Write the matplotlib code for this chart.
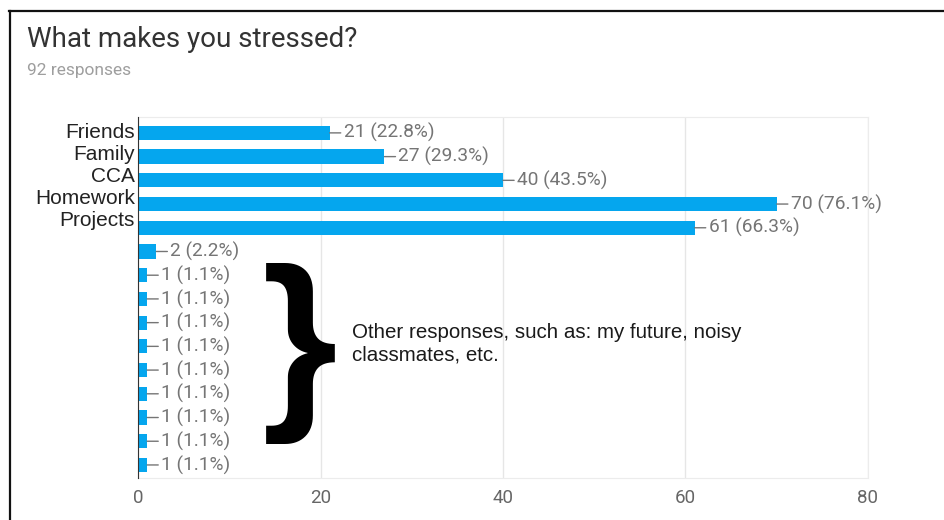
import matplotlib.pyplot as plt
from matplotlib.lines import Line2D

# survey answers, top five named, the rest are free-text "other" answers
named = ['Friends', 'Family', 'CCA', 'Homework', 'Projects']
named_counts = [21, 27, 40, 70, 61]
other_counts = [2, 1, 1, 1, 1, 1, 1, 1, 1, 1]
total = 92
xticks = [0, 20, 40, 60, 80]

counts = named_counts + other_counts
rows = list(range(len(counts)))

BLUE = '#05a6ee'
GREY = '#757575'


def main():
    fig = plt.figure(figsize=(9.45, 5.2), dpi=100)
    ax = fig.add_axes([138 / 945, 1 - 478 / 520, 730 / 945, 361 / 520])

    ax.barh(rows, counts, height=0.6, color=BLUE, zorder=3)
    for y, v in zip(rows, counts):
        ax.annotate(f'{v} ({v / total * 100:.1f}%)', xy=(v, y), xytext=(10, 0),
                    textcoords='offset points', va='center', ha='left',
                    color=GREY, fontsize=13.8, family='Roboto',
                    arrowprops=dict(arrowstyle='-', color=GREY, lw=1,
                                    shrinkA=0, shrinkB=0, relpos=(0, 0.5)))

    ax.set_xlim(0, 80)
    ax.set_ylim(14.55, -0.67)
    ax.set_xticks(xticks)
    ax.set_xticklabels([str(t) for t in xticks], family='Roboto', fontsize=13.5, color='#666666')
    ax.set_yticks([])
    ax.tick_params(axis='x', length=0, pad=8)
    ax.grid(axis='x', color='#e6e6e6', lw=1, zorder=0)
    for side in ['top', 'right', 'bottom']:
        ax.spines[side].set_color('#ececec')
    ax.spines['left'].set_color('#333333')
    ax.spines['left'].set_zorder(4)

    # category names as one right-aligned block beside the bars
    fig.text(135 / 945, 1 - 176 / 520, '\n'.join(named), ha='right', va='center',
             family='Liberation Sans', fontsize=15, color='#222222', linespacing=1.2)

    fig.text(27 / 945, 1 - 47 / 520, 'What makes you stressed?', family='Roboto',
             fontsize=20, color='#333333', va='baseline')
    fig.text(27 / 945, 1 - 75 / 520, '92 responses', family='Roboto',
             fontsize=12.5, color='#9e9e9e', va='baseline')

    # bracket and note for the "other" answers
    fig.text(300 / 945, 1 - 353 / 520, '}', family='Liberation Sans', fontsize=140,
             fontweight='bold', ha='center', va='center', color='black')
    fig.text(352 / 945, 1 - 344 / 520, 'Other responses, such as: my future, noisy\nclassmates, etc.',
             family='Liberation Sans', fontsize=14.8, color='#1a1a1a', va='center', ha='left',
             linespacing=1.22)

    # frame lines on top and left edges
    fig.add_artist(Line2D([9.5 / 945, 1], [1 - 10.5 / 520] * 2, color='#111111', lw=1.6))
    fig.add_artist(Line2D([10 / 945] * 2, [0, 1 - 10.5 / 520], color='#111111', lw=1.6))

    plt.savefig('out.png', dpi=100)


if __name__ == '__main__':
    main()
